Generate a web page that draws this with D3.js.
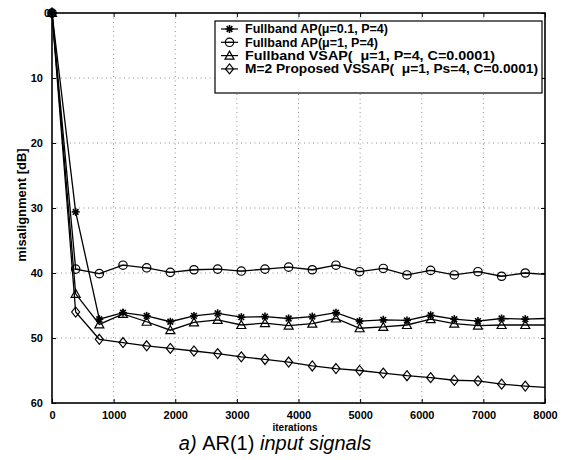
<!DOCTYPE html>
<html><head><meta charset="utf-8">
<script src="https://cdn.jsdelivr.net/npm/d3@7"></script>
<style>
html,body{margin:0;padding:0;background:#fff;}
svg{display:block;}
text{font-family:"Liberation Sans",Arial,sans-serif;fill:#000;}
</style></head>
<body>
<svg id="chart" width="563" height="460"></svg>
<script>
// ---- data ----
const iterations = [0,384,768,1152,1536,1920,2304,2688,3072,3456,3840,4224,4608,4992,5376,5760,6144,6528,6912,7296,7680,8000];
const apMu01   = [0,30.6,47.1,46.1,46.6,47.5,46.6,46.2,46.8,46.7,47.0,46.7,46.1,47.4,47.2,47.3,46.5,47.1,47.4,47.0,47.1,47.0];
const apMu1    = [0,39.4,40.1,38.8,39.2,39.9,39.5,39.4,39.7,39.4,39.1,39.5,38.8,39.8,39.3,40.3,39.6,40.3,39.8,40.5,40.0,40.2];
const vsap     = [0,43.2,47.9,46.3,47.5,48.8,47.6,47.2,48.0,47.7,48.1,47.8,47.0,48.5,48.3,48.0,47.1,47.8,48.1,48.0,48.0,48.0];
const vssap    = [0,46.0,50.2,50.7,51.2,51.6,52.0,52.4,52.9,53.3,53.7,54.3,54.7,55.0,55.4,55.8,56.1,56.5,56.6,57.1,57.4,57.6];
const seriesNames = [
  "Fullband AP(\u03bc=0.1, P=4)",
  "Fullband AP(\u03bc=1, P=4)",
  "Fullband VSAP(  \u03bc=1, P=4, C=0.0001)",
  "M=2 Proposed VSSAP(  \u03bc=1, Ps=4, C=0.0001)"
];
const markerTypes = ["star","circle","triangle","diamond"];
const xTicks = [0,1000,2000,3000,4000,5000,6000,7000,8000];
const yTicks = [0,10,20,30,40,50,60];
const xLabel = "iterations";
const yLabel = "misalignment [dB]";
const caption = ["a) ", "AR(1) ", "input signals"];

const seriesData = [apMu01, apMu1, vsap, vssap];

// ---- layout ----
const svg = d3.select("#chart");
const L = 52, R = 545, T = 13, B = 403;
const x = d3.scaleLinear().domain([0,8000]).range([L,R]);
const y = d3.scaleLinear().domain([0,60]).range([T,B]);

// grid
const grid = svg.append("g").attr("stroke","#777").attr("stroke-width",0.8).attr("stroke-dasharray","1,3.5");
xTicks.slice(1,-1).forEach(t=>grid.append("line").attr("x1",x(t)).attr("x2",x(t)).attr("y1",T).attr("y2",B));
yTicks.slice(1,-1).forEach(t=>grid.append("line").attr("x1",L).attr("x2",R).attr("y1",y(t)).attr("y2",y(t)));

// axes
const xAxis = d3.axisBottom(x).tickValues(xTicks).tickSize(-4).tickPadding(8).tickFormat(d3.format("d"));
const yAxis = d3.axisLeft(y).tickValues(yTicks).tickSize(-4).tickPadding(9).tickFormat(d3.format("d"));
const gx = svg.append("g").attr("transform",`translate(0,${B})`).call(xAxis);
const gy = svg.append("g").attr("transform",`translate(${L},0)`).call(yAxis);
[gx,gy].forEach(g=>{
  g.select(".domain").remove();
  g.selectAll(".tick line").attr("stroke","#000").attr("stroke-width",1);
  g.selectAll(".tick text").attr("font-size",11).attr("font-weight","bold").attr("fill","#000")
    .style("font-family","'Liberation Sans',Arial,sans-serif");
});
gy.selectAll(".tick text").filter(d=>d===0).attr("dx",7);
// top/right ticks
const gt = svg.append("g").call(d3.axisTop(x).tickValues(xTicks).tickSize(-4).tickFormat(""))
  .attr("transform",`translate(0,${T})`);
const gr = svg.append("g").call(d3.axisRight(y).tickValues(yTicks).tickSize(-4).tickFormat(""))
  .attr("transform",`translate(${R},0)`);
[gt,gr].forEach(g=>{g.select(".domain").remove(); g.selectAll("line").attr("stroke","#000");});
// frame
svg.append("rect").attr("x",L).attr("y",T).attr("width",R-L).attr("height",B-T)
  .attr("fill","none").attr("stroke","#000").attr("stroke-width",1.6);

// lines
const line = d3.line().x((d,i)=>x(iterations[i])).y(d=>y(d));
seriesData.forEach(s=>{
  svg.append("path").datum(s).attr("d",line).attr("fill","none").attr("stroke","#000").attr("stroke-width",1.3);
});

// markers
function drawMarker(g, type, cx, cy){
  if(type==="circle"){
    g.append("circle").attr("cx",cx).attr("cy",cy).attr("r",4.2).attr("fill","none").attr("stroke","#000").attr("stroke-width",1.2);
    g.append("line").attr("x1",cx-4).attr("x2",cx+4).attr("y1",cy).attr("y2",cy).attr("stroke","#000").attr("stroke-width",0.8);
  } else if(type==="triangle"){
    g.append("path").attr("d",`M${cx},${cy-4.5}L${cx+4.5},${cy+3.5}L${cx-4.5},${cy+3.5}Z`).attr("fill","none").attr("stroke","#000").attr("stroke-width",1.2);
  } else if(type==="diamond"){
    g.append("path").attr("d",`M${cx},${cy-5}L${cx+4},${cy}L${cx},${cy+5}L${cx-4},${cy}Z`).attr("fill","none").attr("stroke","#000").attr("stroke-width",1.2);
  } else {
    const r=4;
    for(let k=0;k<4;k++){
      const a=k*Math.PI/4;
      g.append("line").attr("x1",cx-r*Math.cos(a)).attr("y1",cy-r*Math.sin(a))
        .attr("x2",cx+r*Math.cos(a)).attr("y2",cy+r*Math.sin(a)).attr("stroke","#000").attr("stroke-width",1.6);
    }
    g.append("circle").attr("cx",cx).attr("cy",cy).attr("r",1.8).attr("fill","#000");
  }
}
const mg = svg.append("g");
seriesData.forEach((s,si)=>{
  s.forEach((v,i)=>{ if(i<s.length-1) drawMarker(mg, markerTypes[si], x(iterations[i]), y(v)); });
});

// legend
const legendWidths = [143,133,250,293];
const lg = svg.append("g");
lg.append("rect").attr("x",215).attr("y",21).attr("width",327).attr("height",72)
  .attr("fill","#fff").attr("stroke","#000").attr("stroke-width",1.2);
seriesNames.forEach((n,i)=>{
  const ly = 29 + i*13.3;
  lg.append("line").attr("x1",221).attr("x2",238).attr("y1",ly).attr("y2",ly).attr("stroke","#000").attr("stroke-width",1.2);
  drawMarker(lg, markerTypes[i], 229.5, ly);
  lg.append("text").attr("x",245).attr("y",ly+4.3).attr("font-size",12.5).attr("font-weight","bold")
    .attr("textLength",legendWidths[i]).attr("lengthAdjust","spacingAndGlyphs")
    .style("white-space","pre").text(n);
});

// axis labels
svg.append("text").attr("x",295).attr("y",431).attr("text-anchor","middle")
  .attr("font-size",10).attr("font-weight","bold").text(xLabel);
svg.append("text").attr("transform","translate(26,205) rotate(-90)").attr("text-anchor","middle")
  .attr("font-size",13).attr("font-weight","bold").text(yLabel);

// caption
const cap = svg.append("text").attr("x",275).attr("y",450).attr("text-anchor","middle").attr("font-size",20)
  .style("font-family","'Liberation Sans',Arial,sans-serif");
cap.append("tspan").attr("font-style","italic").text(caption[0]);
cap.append("tspan").text(caption[1]);
cap.append("tspan").attr("font-style","italic").text(caption[2]);
</script>
</body></html>
